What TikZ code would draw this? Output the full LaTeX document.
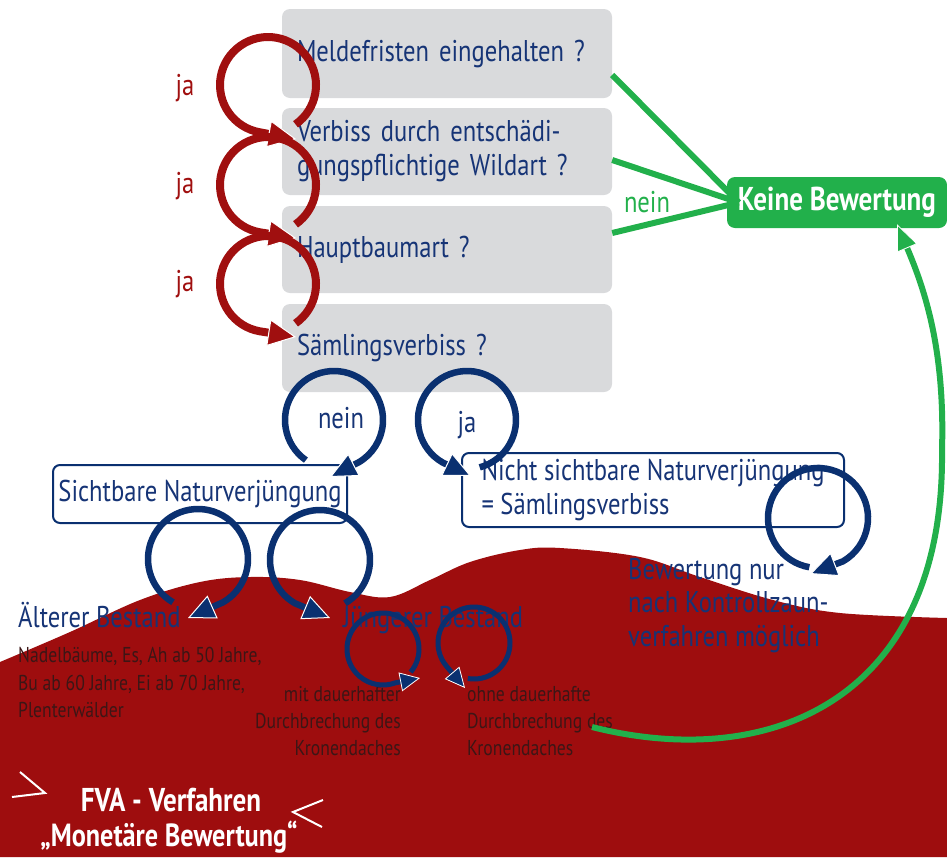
\documentclass[tikz,border=0pt]{standalone}
\usepackage{fontspec}
\setmainfont{PT Sans}[FakeStretch=0.82]
\usetikzlibrary{arrows.meta}
\definecolor{bgred}{RGB}{158,13,14}
\definecolor{qgrey}{RGB}{217,218,220}
\definecolor{dblue}{RGB}{10,48,112}
\definecolor{tblue}{RGB}{22,52,118}
\definecolor{gr}{RGB}{34,176,75}
\definecolor{jared}{RGB}{160,15,15}
\definecolor{smalltxt}{RGB}{60,22,22}
\tikzset{
  bigtxt/.style={font=\fontsize{30}{34}\selectfont},
  boldtxt/.style={font=\fontsize{33}{37}\selectfont\bfseries},
  smtxt/.style={font=\fontsize{21.5}{27}\selectfont, text=smalltxt, inner sep=0pt},
  qbox/.style={fill=qgrey, rounded corners=8pt, minimum width=330pt, text width=300pt,
    align=left, inner xsep=15pt, inner ysep=2pt, text=tblue, bigtxt},
  bbox/.style={draw=dblue, line width=2pt, fill=white, rounded corners=7pt, text=tblue, bigtxt, inner sep=0pt},
  lbl/.style={bigtxt, inner sep=0pt, anchor=base},
  rloop/.style={draw=jared, line width=8pt,
    -{Triangle[length=28pt,width=27pt,fill=jared,color=white,line width=1pt]}},
  bloop/.style={draw=dblue, line width=6.5pt,
    -{Triangle[length=27pt,width=25pt,fill=dblue,color=white,line width=1pt]}},
  sloop/.style={draw=dblue, line width=5pt,
    -{Triangle[length=20pt,width=19pt,fill=dblue,color=white,line width=0.8pt]}},
  gline/.style={draw=gr, line width=6pt},
  garrow/.style={draw=gr, line width=6pt,
    -{Triangle[length=26pt,width=22pt,fill=gr,color=white,line width=0.8pt]}},
  chev/.style={draw=white, line width=2pt},
}
\begin{document}
\begin{tikzpicture}[x=1pt,y=-1pt]
\useasboundingbox (0,0) rectangle (947,857);
% red background
\fill[bgred] plot[smooth, tension=0.6] coordinates {(0,662) (70,632) (140,600) (200,582) (250,577) (300,580) (350,592) (390,597) (430,580) (470,562) (520,550) (560,548) (640,557) (700,577) (773,600) (840,613) (947,618)}
  -- (947,857) -- (0,857) -- cycle;

% question boxes
\node[qbox, minimum height=89pt] (q1) at (447,53.5) {Meldefristen eingehalten ?};
\node[qbox, minimum height=87pt] (q2) at (447,151.5) {Verbiss durch entschädi-\\gungspflichtige Wildart ?};
\node[qbox, minimum height=87pt] (q3) at (447,249.5) {Hauptbaumart ?};
\node[qbox, minimum height=88pt] (q4) at (447,348) {Sämlingsverbiss ?};

% result box
\node[fill=gr, rounded corners=8pt, minimum width=220pt, minimum height=51pt, text=white,
  boldtxt, inner sep=0pt] (kb) at (837,202.5) {Keine Bewertung};

% green connectors
\coordinate (kin) at ([xshift=12pt]kb.west);
\draw[gline] ([yshift=-21.5pt]q1.east) -- (kin);
\draw[gline] ([yshift=-8.5pt]q2.east) -- (kin);
\draw[gline] ([yshift=16.5pt]q3.east) -- (kin);
\node[lbl, text=gr] (nein1) at (647,212) {nein};

% red loops
\draw[rloop] (268,85) ++(55:48) arc[start angle=55, end angle=-260, radius=48] -- (296,139);
\draw[rloop] (268,185) ++(55:48) arc[start angle=55, end angle=-260, radius=48] -- (296,238);
\draw[rloop] (268,284) ++(55:48) arc[start angle=55, end angle=-260, radius=48] -- (296,337);
\node[lbl, text=jared] (ja1) at (185,95) {ja};
\node[lbl, text=jared] (ja2) at (185,193) {ja};
\node[lbl, text=jared] (ja3) at (185,291) {ja};

% second level boxes
\node[bbox, minimum width=294pt, minimum height=58pt] (sv) at (200,494) {Sichtbare Naturverjüngung};
\node[bbox, minimum width=382pt, minimum height=74pt, align=left] (nsv) at (653,490)
  {Nicht sichtbare Naturverjüngung\\= Sämlingsverbiss};

% blue loops from Saemlingsverbiss
\draw[bloop] (334,420) ++(125:49) arc[start angle=125, end angle=420, radius=49] -- (330,477);
\draw[bloop] (467,420) ++(75:49) arc[start angle=75, end angle=-240, radius=49] -- (471,476);
\node[lbl, text=tblue] (nein2) at (341,428) {nein};
\node[lbl, text=tblue] (ja4) at (467,432) {ja};

% loops from Sichtbare
\draw[bloop] (198,559) ++(120:50) arc[start angle=120, end angle=420, radius=50] -- (188,618);
\draw[bloop] (320,560) ++(60:50) arc[start angle=60, end angle=-240, radius=50] -- (330,618);

% loop from Nicht sichtbare
\draw[bloop] (818,518) ++(100:50) arc[start angle=100, end angle=420, radius=50] -- (810,574);

% bottom texts
\node[bigtxt, text=tblue, inner sep=0pt, anchor=base west] (alt) at (18,627) {Älterer Bestand};
\node[bigtxt, text=tblue, inner sep=0pt, anchor=base west] (jung) at (343,627) {Jüngerer Bestand};
\node[smtxt, anchor=base west] (alt1) at (18,662) {Nadelbäume, Es, Ah ab 50 Jahre,};
\node[smtxt, anchor=base west] (alt2) at (18,690) {Bu ab 60 Jahre, Ei ab 70 Jahre,};
\node[smtxt, anchor=base west] (alt3) at (18,717) {Plenterwälder};
\node[smtxt, anchor=base east] (mit1) at (401,701) {mit dauerhafter};
\node[smtxt, anchor=base east] (mit2) at (401,728) {Durchbrechung des};
\node[smtxt, anchor=base east] (mit3) at (401,755) {Kronendaches};
\node[smtxt, anchor=base west] (ohne1) at (467,701) {ohne dauerhafte};
\node[smtxt, anchor=base west] (ohne2) at (467,728) {Durchbrechung des};
\node[smtxt, anchor=base west] (ohne3) at (467,755) {Kronendaches};
\node[bigtxt, text=tblue, inner sep=0pt, anchor=base west] (bn1) at (628,579) {Bewertung nur};
\node[bigtxt, text=tblue, inner sep=0pt, anchor=base west] (bn2) at (628,612) {nach Kontrollzaun-};
\node[bigtxt, text=tblue, inner sep=0pt, anchor=base west] (bn3) at (628,646) {verfahren möglich};

% small loops in Juengerer Bestand
\draw[sloop] (383,649) ++(40:36) arc[start angle=40, end angle=-290, radius=36] -- (420,678);
\draw[sloop] (474,643) ++(100:36) arc[start angle=100, end angle=-220, radius=36] -- (465,688);

% green return arrow
\coordinate (gstart) at (592,727);
\draw[garrow] (gstart) .. controls (770,772) and (945,700) .. (942,450)
  .. controls (945,350) and (925,290) .. ([xshift=60pt,yshift=4pt]kb.south);

% FVA label
\node[text=white, boldtxt, inner sep=0pt, anchor=base] (fva1) at (171,811) {FVA - Verfahren};
\node[text=white, font=\fontsize{32}{36}\selectfont\bfseries, inner sep=0pt, anchor=base] (fva2) at (169,846) {„Monetäre Bewertung“};
\draw[chev] (20,772) -- (45,793) -- (12,797);
\draw[chev] (323,800) -- (293,812) -- (322,827);
\end{tikzpicture}
\end{document}
